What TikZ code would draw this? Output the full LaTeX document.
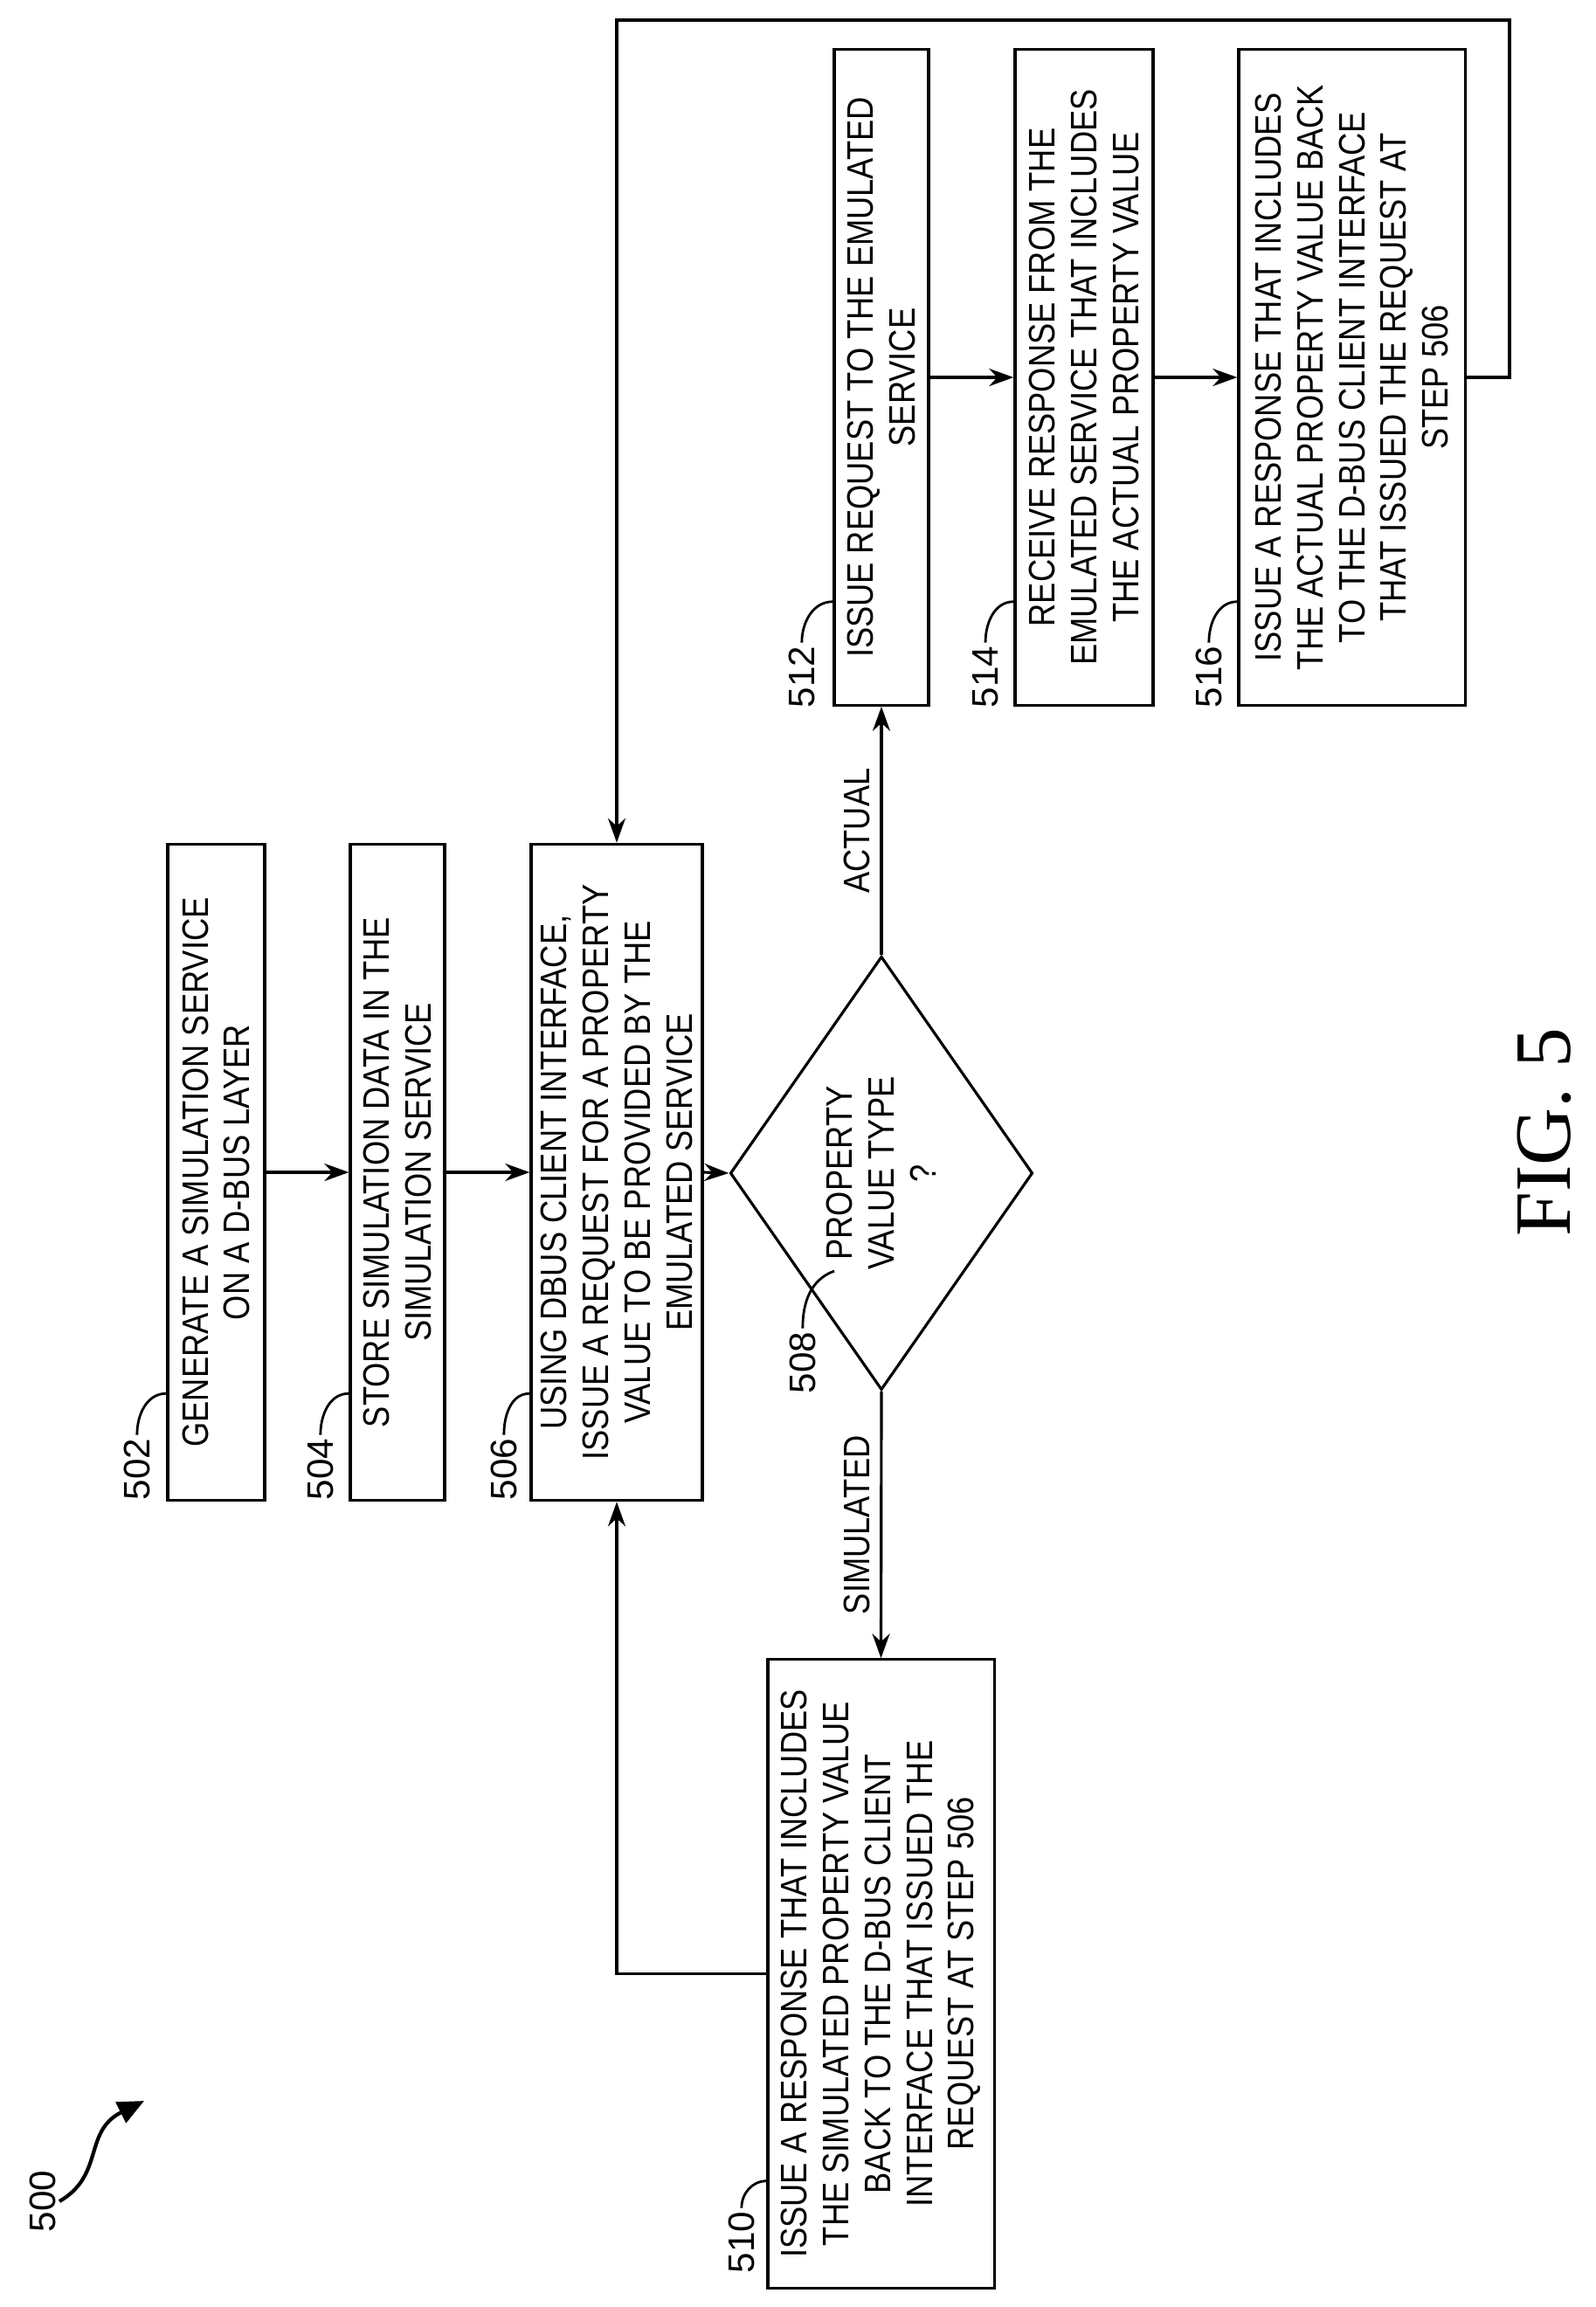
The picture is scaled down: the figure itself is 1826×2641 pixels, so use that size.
\documentclass[tikz,border=0pt]{standalone}
\usepackage{fontspec}
\setmainfont{Liberation Sans}
\newfontfamily\boxfont{Liberation Sans}[FakeStretch=0.86]
\newfontfamily\figfont{Liberation Serif}
\usetikzlibrary{shapes.geometric, arrows.meta, positioning}
\tikzset{
  stepbox/.style = {draw, line width=0.9pt, rectangle, rotate=90, align=center, inner sep=2pt,
                   font=\boxfont\fontsize{12}{13.6}\selectfont},
  decide/.style = {draw, line width=0.9pt, diamond, rotate=90, align=center, inner sep=0pt,
                   font=\boxfont\fontsize{12}{13.6}\selectfont},
  refnum/.style = {rotate=90, inner sep=1pt, anchor=south, font=\fontsize{12}{14}\selectfont},
  arrow/.style  = {line width=0.9pt, -{Stealth[length=0.28cm, width=0.2cm]}},
  leader/.style = {line width=0.8pt}
}
\begin{document}
\begin{tikzpicture}[x=0.01cm, y=-0.01cm]
  \useasboundingbox (0,0) rectangle (1826,2641);

  % left column
  \node[stepbox, minimum width=7.51cm, minimum height=1.11cm] (n502) at (247.5,1342)
       {GENERATE A SIMULATION SERVICE\\ON A D-BUS LAYER};
  \node[stepbox, minimum width=7.51cm, minimum height=1.08cm] (n504) at (455,1342)
       {STORE SIMULATION DATA IN THE\\SIMULATION SERVICE};
  \node[stepbox, minimum width=7.51cm, minimum height=1.96cm] (n506) at (706,1342)
       {USING DBUS CLIENT INTERFACE,\\ISSUE A REQUEST FOR A PROPERTY\\VALUE TO BE PROVIDED BY THE\\EMULATED SERVICE};
  \node[decide, minimum width=4.96cm, minimum height=2.10cm] (d508) at (1009,1343)
       {PROPERTY\\VALUE TYPE\\?};
  \node[stepbox, minimum width=7.19cm, minimum height=2.59cm] (n510) at (1008.5,2259.5)
       {ISSUE A RESPONSE THAT INCLUDES\\THE SIMULATED PROPERTY VALUE\\BACK TO THE D-BUS CLIENT\\INTERFACE THAT ISSUED THE\\REQUEST AT STEP 506};

  % upper row
  \node[stepbox, minimum width=7.50cm, minimum height=1.08cm] (n512) at (1009,432)
       {ISSUE REQUEST TO THE EMULATED\\SERVICE};
  \node[stepbox, minimum width=7.50cm, minimum height=1.58cm] (n514) at (1241,432)
       {RECEIVE RESPONSE FROM THE\\EMULATED SERVICE THAT INCLUDES\\THE ACTUAL PROPERTY VALUE};
  \node[stepbox, minimum width=7.50cm, minimum height=2.59cm] (n516) at (1547.5,432)
       {ISSUE A RESPONSE THAT INCLUDES\\THE ACTUAL PROPERTY VALUE BACK\\TO THE D-BUS CLIENT INTERFACE\\THAT ISSUED THE REQUEST AT\\STEP 506};

  % connectors
  \draw[arrow] (n502.south) -- (n504.north);
  \draw[arrow] (n504.south) -- (n506.north);
  \draw[arrow] (n506.south) -- (d508.north);
  \draw[arrow] (d508.east) -- node[midway, above, rotate=90, font=\boxfont\fontsize{12}{14}\selectfont] {ACTUAL} (n512.west);
  \draw[arrow] (d508.west) -- node[midway, above, rotate=90, font=\boxfont\fontsize{12}{14}\selectfont] {SIMULATED} (n510.east);
  \draw[arrow] (n512.south) -- (n514.north);
  \draw[arrow] (n514.south) -- (n516.north);
  \coordinate (loop) at (1728,23);
  \draw[arrow] (n516.south) -| (loop) -| (n506.east);
  \draw[arrow] (n510.north) -| (n506.west);

  % reference numerals
  \node[refnum] (l502) at (176,1682) {502};
  \node[refnum] (l504) at (386,1682) {504};
  \node[refnum] (l506) at (596,1682) {506};
  \node[refnum] (l508) at (938,1560) {508};
  \node[refnum] (l510) at (868,2567) {510};
  \node[refnum] (l512) at (937,775) {512};
  \node[refnum] (l514) at (1147,775) {514};
  \node[refnum] (l516) at (1403,775) {516};
  \draw[leader] (l502.east) to[out=90, in=180] ([yshift=1.24cm]n502.north west);
  \draw[leader] (l504.east) to[out=90, in=180] ([yshift=1.24cm]n504.north west);
  \draw[leader] (l506.east) to[out=90, in=180] ([yshift=1.24cm]n506.north west);
  \draw[leader] (l508.east) to[out=90, in=200] (955,1455);
  \draw[leader] (l510.east) to[out=90, in=180] ([yshift=1.24cm]n510.north west);
  \draw[leader] (l512.east) to[out=90, in=180] ([yshift=1.20cm]n512.north west);
  \draw[leader] (l514.east) to[out=90, in=180] ([yshift=1.20cm]n514.north west);
  \draw[leader] (l516.east) to[out=90, in=180] ([yshift=1.20cm]n516.north west);

  \node[refnum] (l500) at (68,2520) {500};
  \coordinate (fig500) at (165,2405);
  \draw[line width=1.2pt, -{Triangle[length=0.3cm, width=0.26cm]}] (l500.south) .. controls (120,2490) and (95,2440) .. (fig500);

  \node[rotate=90, font=\figfont\fontsize{26}{30}\selectfont] (fig) at (1768,1296) {FIG. 5};
\end{tikzpicture}
\end{document}
